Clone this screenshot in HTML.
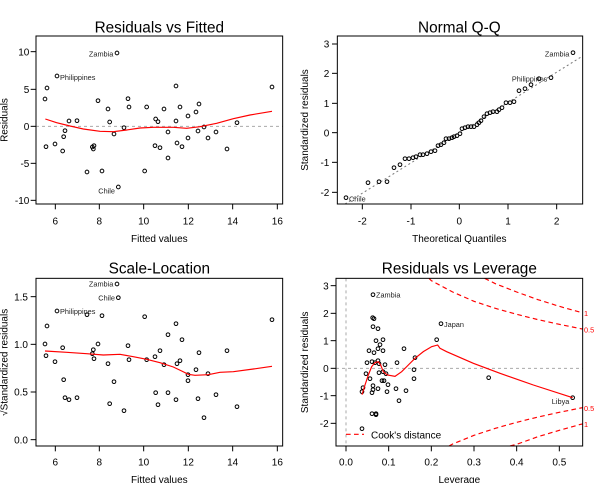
<!DOCTYPE html>
<html><head><meta charset="utf-8"><style>
html,body{margin:0;padding:0;background:#fff;}
svg{display:block;font-family:"Liberation Sans",Arial,sans-serif;}
.bx{fill:none;stroke:#000;stroke-width:3}
.tk{stroke:#000;stroke-width:3}
.pt{fill:none;stroke:#000;stroke-width:3}
.pt circle{r:5.5px}
.t{font-size:30px;fill:#000}
.ti{font-size:46px;fill:#000}
.pl{font-size:22px;fill:#222}
.lo{fill:none;stroke:#f00;stroke-width:3.5}
.zl{stroke:#aaa;stroke-width:3;stroke-dasharray:9,9}
.ck{fill:none;stroke:#f00;stroke-width:3.5;stroke-dasharray:14,10}
</style></head><body>
<svg width="601" height="483" viewBox="0 0 601 483">
<defs>
<clipPath id="c1"><rect x="108" y="108" width="740" height="504"/></clipPath>
<clipPath id="c4"><rect x="108" y="100" width="740" height="503"/></clipPath>
</defs>

<!-- Panel 1 -->
<g transform="scale(0.33333)">
<text class="ti" x="478" y="97" text-anchor="middle">Residuals vs Fitted</text>
<line class="zl" x1="108" y1="379" x2="848" y2="379"/>
<g class="pt">
<circle cx="135" cy="297" r="5.5"/><circle cx="138" cy="440" r="5.5"/><circle cx="141" cy="264" r="5.5"/><circle cx="165" cy="432" r="5.5"/><circle cx="171" cy="228" r="5.5"/><circle cx="188" cy="453" r="5.5"/><circle cx="191" cy="410" r="5.5"/><circle cx="195" cy="392" r="5.5"/><circle cx="207" cy="363" r="5.5"/><circle cx="231" cy="362" r="5.5"/><circle cx="261" cy="516" r="5.5"/><circle cx="277" cy="441" r="5.5"/><circle cx="280" cy="447" r="5.5"/><circle cx="282" cy="437" r="5.5"/><circle cx="294" cy="302" r="5.5"/><circle cx="306" cy="513" r="5.5"/><circle cx="324" cy="327" r="5.5"/><circle cx="329" cy="366" r="5.5"/><circle cx="342" cy="402" r="5.5"/><circle cx="351" cy="159" r="5.5"/><circle cx="355" cy="561" r="5.5"/><circle cx="372" cy="383" r="5.5"/><circle cx="384" cy="296" r="5.5"/><circle cx="387" cy="321" r="5.5"/><circle cx="434" cy="513" r="5.5"/><circle cx="440" cy="321" r="5.5"/><circle cx="465" cy="437" r="5.5"/><circle cx="467" cy="357" r="5.5"/><circle cx="474" cy="365" r="5.5"/><circle cx="480" cy="443" r="5.5"/><circle cx="492" cy="327" r="5.5"/><circle cx="504" cy="396" r="5.5"/><circle cx="504" cy="474" r="5.5"/><circle cx="528" cy="258" r="5.5"/><circle cx="528" cy="363" r="5.5"/><circle cx="531" cy="429" r="5.5"/><circle cx="540" cy="321" r="5.5"/><circle cx="546" cy="440" r="5.5"/><circle cx="564" cy="348" r="5.5"/><circle cx="564" cy="414" r="5.5"/><circle cx="588" cy="336" r="5.5"/><circle cx="594" cy="393" r="5.5"/><circle cx="597" cy="312" r="5.5"/><circle cx="612" cy="381" r="5.5"/><circle cx="624" cy="414" r="5.5"/><circle cx="648" cy="396" r="5.5"/><circle cx="681" cy="447" r="5.5"/><circle cx="711" cy="368" r="5.5"/><circle cx="816" cy="261" r="5.5"/>
</g>
<polyline class="lo" points="136,357 170,368 210,378 250,387 300,394 340,395 380,390 420,384 460,382 520,382 560,385 600,380 650,370 700,356 750,345 816,334"/>
<text class="pl" x="340" y="170" text-anchor="end">Zambia</text>
<text class="pl" x="180" y="240">Philippines</text>
<text class="pl" x="345" y="580" text-anchor="end">Chile</text>
<rect class="bx" x="108" y="108" width="740" height="504"/>
<g class="tk"><line x1="166" y1="612" x2="166" y2="628"/><line x1="298" y1="612" x2="298" y2="628"/><line x1="431" y1="612" x2="431" y2="628"/><line x1="565" y1="612" x2="565" y2="628"/><line x1="698" y1="612" x2="698" y2="628"/><line x1="832" y1="612" x2="832" y2="628"/>
<line x1="92" y1="155" x2="108" y2="155"/><line x1="92" y1="268" x2="108" y2="268"/><line x1="92" y1="379" x2="108" y2="379"/><line x1="92" y1="490" x2="108" y2="490"/><line x1="92" y1="601" x2="108" y2="601"/></g>
<g class="t" text-anchor="middle"><text x="166" y="673">6</text><text x="298" y="673">8</text><text x="431" y="673">10</text><text x="565" y="673">12</text><text x="698" y="673">14</text><text x="832" y="673">16</text></g>
<g class="t" text-anchor="end"><text x="88" y="166">10</text><text x="88" y="279">5</text><text x="88" y="390">0</text><text x="88" y="501">-5</text><text x="88" y="612">-10</text></g>
<text class="t" x="478" y="726" text-anchor="middle">Fitted values</text>
<text class="t" transform="translate(22,360) rotate(-90)" text-anchor="middle">Residuals</text>
</g>

<!-- Panel 2 -->
<g transform="translate(300,0) scale(0.33333)">
<text class="ti" x="478" y="97" text-anchor="middle">Normal Q-Q</text>
<line x1="135" y1="612" x2="848" y2="168" stroke="#777" stroke-width="3" stroke-dasharray="6,8" clip-path="url(#c1)"/>
<g class="pt">
<circle cx="138" cy="593" r="5.5"/><circle cx="204" cy="548" r="5.5"/><circle cx="237" cy="545" r="5.5"/><circle cx="261" cy="545" r="5.5"/><circle cx="282" cy="503" r="5.5"/><circle cx="300" cy="494" r="5.5"/><circle cx="315" cy="476" r="5.5"/><circle cx="327" cy="476" r="5.5"/><circle cx="339" cy="473" r="5.5"/><circle cx="348" cy="470" r="5.5"/><circle cx="360" cy="464" r="5.5"/><circle cx="369" cy="464" r="5.5"/><circle cx="381" cy="461" r="5.5"/><circle cx="393" cy="455" r="5.5"/><circle cx="405" cy="452" r="5.5"/><circle cx="414" cy="437" r="5.5"/><circle cx="423" cy="434" r="5.5"/><circle cx="432" cy="428" r="5.5"/><circle cx="438" cy="416" r="5.5"/><circle cx="447" cy="416" r="5.5"/><circle cx="456" cy="413" r="5.5"/><circle cx="462" cy="410" r="5.5"/><circle cx="471" cy="407" r="5.5"/><circle cx="480" cy="401" r="5.5"/><circle cx="486" cy="386" r="5.5"/><circle cx="495" cy="383" r="5.5"/><circle cx="504" cy="380" r="5.5"/><circle cx="513" cy="380" r="5.5"/><circle cx="522" cy="380" r="5.5"/><circle cx="531" cy="374" r="5.5"/><circle cx="537" cy="368" r="5.5"/><circle cx="543" cy="362" r="5.5"/><circle cx="552" cy="350" r="5.5"/><circle cx="561" cy="341" r="5.5"/><circle cx="570" cy="338" r="5.5"/><circle cx="579" cy="335" r="5.5"/><circle cx="591" cy="335" r="5.5"/><circle cx="597" cy="329" r="5.5"/><circle cx="606" cy="323" r="5.5"/><circle cx="618" cy="308" r="5.5"/><circle cx="630" cy="308" r="5.5"/><circle cx="642" cy="305" r="5.5"/><circle cx="657" cy="272" r="5.5"/><circle cx="675" cy="266" r="5.5"/><circle cx="693" cy="254" r="5.5"/><circle cx="717" cy="236" r="5.5"/><circle cx="753" cy="233" r="5.5"/><circle cx="819" cy="158" r="5.5"/>
</g>
<text class="pl" x="808" y="170" text-anchor="end">Zambia</text>
<text class="pl" x="742" y="245" text-anchor="end">Philippines</text>
<text class="pl" x="147" y="604">Chile</text>
<rect class="bx" x="112" y="108" width="736" height="504"/>
<g class="tk"><line x1="187" y1="612" x2="187" y2="628"/><line x1="333" y1="612" x2="333" y2="628"/><line x1="478" y1="612" x2="478" y2="628"/><line x1="624" y1="612" x2="624" y2="628"/><line x1="770" y1="612" x2="770" y2="628"/>
<line x1="96" y1="132" x2="112" y2="132"/><line x1="96" y1="220" x2="112" y2="220"/><line x1="96" y1="310" x2="112" y2="310"/><line x1="96" y1="398" x2="112" y2="398"/><line x1="96" y1="487" x2="112" y2="487"/><line x1="96" y1="577" x2="112" y2="577"/></g>
<g class="t" text-anchor="middle"><text x="187" y="673">-2</text><text x="333" y="673">-1</text><text x="478" y="673">0</text><text x="624" y="673">1</text><text x="770" y="673">2</text></g>
<g class="t" text-anchor="end"><text x="88" y="143">3</text><text x="88" y="231">2</text><text x="88" y="321">1</text><text x="88" y="409">0</text><text x="88" y="498">-1</text><text x="88" y="588">-2</text></g>
<text class="t" x="478" y="726" text-anchor="middle">Theoretical Quantiles</text>
<text class="t" transform="translate(24,360) rotate(-90)" text-anchor="middle">Standardized residuals</text>
</g>

<!-- Panel 3 -->
<g transform="translate(0,245) scale(0.33333)">
<text class="ti" x="478" y="86" text-anchor="middle">Scale-Location</text>
<g class="pt">
<circle cx="135" cy="297" r="5.5"/><circle cx="138" cy="332" r="5.5"/><circle cx="141" cy="243" r="5.5"/><circle cx="165" cy="350" r="5.5"/><circle cx="171" cy="198" r="5.5"/><circle cx="188" cy="308" r="5.5"/><circle cx="191" cy="404" r="5.5"/><circle cx="195" cy="458" r="5.5"/><circle cx="207" cy="464" r="5.5"/><circle cx="231" cy="458" r="5.5"/><circle cx="261" cy="209" r="5.5"/><circle cx="277" cy="326" r="5.5"/><circle cx="280" cy="314" r="5.5"/><circle cx="282" cy="341" r="5.5"/><circle cx="294" cy="297" r="5.5"/><circle cx="306" cy="212" r="5.5"/><circle cx="324" cy="356" r="5.5"/><circle cx="329" cy="476" r="5.5"/><circle cx="342" cy="410" r="5.5"/><circle cx="351" cy="117" r="5.5"/><circle cx="355" cy="158" r="5.5"/><circle cx="372" cy="497" r="5.5"/><circle cx="384" cy="302" r="5.5"/><circle cx="387" cy="344" r="5.5"/><circle cx="434" cy="215" r="5.5"/><circle cx="440" cy="344" r="5.5"/><circle cx="465" cy="335" r="5.5"/><circle cx="467" cy="443" r="5.5"/><circle cx="474" cy="479" r="5.5"/><circle cx="480" cy="317" r="5.5"/><circle cx="492" cy="359" r="5.5"/><circle cx="504" cy="443" r="5.5"/><circle cx="504" cy="269" r="5.5"/><circle cx="528" cy="236" r="5.5"/><circle cx="528" cy="464" r="5.5"/><circle cx="531" cy="356" r="5.5"/><circle cx="540" cy="347" r="5.5"/><circle cx="546" cy="284" r="5.5"/><circle cx="564" cy="389" r="5.5"/><circle cx="564" cy="407" r="5.5"/><circle cx="588" cy="374" r="5.5"/><circle cx="594" cy="461" r="5.5"/><circle cx="597" cy="323" r="5.5"/><circle cx="612" cy="518" r="5.5"/><circle cx="624" cy="386" r="5.5"/><circle cx="648" cy="449" r="5.5"/><circle cx="681" cy="317" r="5.5"/><circle cx="711" cy="485" r="5.5"/><circle cx="816" cy="224" r="5.5"/>
</g>
<polyline class="lo" points="135,318 200,322 260,326 310,330 360,328 400,335 440,343 480,353 520,366 545,378 565,388 585,391 625,389 660,382 700,380 760,372 816,364"/>
<text class="pl" x="340" y="125" text-anchor="end">Zambia</text>
<text class="pl" x="345" y="167" text-anchor="end">Chile</text>
<text class="pl" x="180" y="207">Philippines</text>
<rect class="bx" x="108" y="100" width="740" height="503"/>
<g class="tk"><line x1="166" y1="603" x2="166" y2="619"/><line x1="298" y1="603" x2="298" y2="619"/><line x1="431" y1="603" x2="431" y2="619"/><line x1="565" y1="603" x2="565" y2="619"/><line x1="698" y1="603" x2="698" y2="619"/><line x1="832" y1="603" x2="832" y2="619"/>
<line x1="92" y1="155" x2="108" y2="155"/><line x1="92" y1="298" x2="108" y2="298"/><line x1="92" y1="441" x2="108" y2="441"/><line x1="92" y1="584" x2="108" y2="584"/></g>
<g class="t" text-anchor="middle"><text x="166" y="662">6</text><text x="298" y="662">8</text><text x="431" y="662">10</text><text x="565" y="662">12</text><text x="698" y="662">14</text><text x="832" y="662">16</text></g>
<g class="t" text-anchor="end"><text x="84" y="166">1.5</text><text x="84" y="309">1.0</text><text x="84" y="452">0.5</text><text x="84" y="595">0.0</text></g>
<text class="t" x="478" y="714" text-anchor="middle">Fitted values</text>
<text class="t" transform="translate(22,352) rotate(-90)" text-anchor="middle">√Standardized residuals</text>
</g>

<!-- Panel 4 -->
<g transform="translate(300,245) scale(0.33333)">
<text class="ti" x="478" y="86" text-anchor="middle">Residuals vs Leverage</text>
<line class="zl" x1="108" y1="370" x2="848" y2="370"/>
<line class="zl" x1="138" y1="100" x2="138" y2="603"/>
<g clip-path="url(#c4)">
<polyline class="ck" points="387,100 394,107 458,141 522,169 586,190 650,208 714,224 778,238 842,251 848,252"/>
<polyline class="ck" points="554,100 586,116 650,141 714,164 778,184 842,202 848,203"/>
<polyline class="ck" points="447,603 458,597 522,571 586,550 650,532 714,516 778,502 842,489 848,488"/>
<polyline class="ck" points="630,603 650,598 714,575 778,556 842,538 848,537"/>
</g>
<g class="pt">
<circle cx="219" cy="149" r="5.5"/><circle cx="218" cy="218" r="5.5"/><circle cx="222" cy="221" r="5.5"/><circle cx="219" cy="245" r="5.5"/><circle cx="234" cy="251" r="5.5"/><circle cx="228" cy="287" r="5.5"/><circle cx="249" cy="284" r="5.5"/><circle cx="207" cy="317" r="5.5"/><circle cx="222" cy="323" r="5.5"/><circle cx="234" cy="311" r="5.5"/><circle cx="240" cy="299" r="5.5"/><circle cx="249" cy="317" r="5.5"/><circle cx="234" cy="347" r="5.5"/><circle cx="225" cy="353" r="5.5"/><circle cx="201" cy="353" r="5.5"/><circle cx="216" cy="350" r="5.5"/><circle cx="237" cy="356" r="5.5"/><circle cx="255" cy="359" r="5.5"/><circle cx="198" cy="386" r="5.5"/><circle cx="210" cy="401" r="5.5"/><circle cx="237" cy="383" r="5.5"/><circle cx="249" cy="380" r="5.5"/><circle cx="258" cy="386" r="5.5"/><circle cx="252" cy="407" r="5.5"/><circle cx="246" cy="407" r="5.5"/><circle cx="264" cy="419" r="5.5"/><circle cx="189" cy="428" r="5.5"/><circle cx="186" cy="440" r="5.5"/><circle cx="219" cy="422" r="5.5"/><circle cx="219" cy="434" r="5.5"/><circle cx="234" cy="431" r="5.5"/><circle cx="216" cy="443" r="5.5"/><circle cx="261" cy="440" r="5.5"/><circle cx="216" cy="506" r="5.5"/><circle cx="228" cy="506" r="5.5"/><circle cx="228" cy="509" r="5.5"/><circle cx="186" cy="551" r="5.5"/><circle cx="312" cy="311" r="5.5"/><circle cx="291" cy="353" r="5.5"/><circle cx="342" cy="401" r="5.5"/><circle cx="288" cy="431" r="5.5"/><circle cx="297" cy="467" r="5.5"/><circle cx="318" cy="437" r="5.5"/><circle cx="345" cy="338" r="5.5"/><circle cx="342" cy="374" r="5.5"/><circle cx="410" cy="284" r="5.5"/><circle cx="423" cy="236" r="5.5"/><circle cx="566" cy="398" r="5.5"/><circle cx="818" cy="458" r="5.5"/>
</g>
<polyline class="lo" points="186,449 195,420 205,390 215,365 225,353 235,350 242,360 250,380 262,390 285,394 305,380 325,360 345,340 370,320 395,305 413,300 420,310 440,320 520,355 600,385 700,420 818,458"/>
<text class="pl" x="228" y="158">Zambia</text>
<text class="pl" x="432" y="246">Japan</text>
<text class="pl" x="808" y="477" text-anchor="end">Libya</text>
<g font-size="22" fill="#f00"><text x="852" y="213">1</text><text x="852" y="263">0.5</text><text x="852" y="498">0.5</text><text x="852" y="546">1</text></g>
<line class="ck" x1="138" y1="568" x2="192" y2="568"/>
<text class="t" x="213" y="580">Cook's distance</text>
<rect class="bx" x="108" y="100" width="740" height="503"/>
<g class="tk"><line x1="138" y1="603" x2="138" y2="619"/><line x1="266" y1="603" x2="266" y2="619"/><line x1="394" y1="603" x2="394" y2="619"/><line x1="522" y1="603" x2="522" y2="619"/><line x1="650" y1="603" x2="650" y2="619"/><line x1="778" y1="603" x2="778" y2="619"/>
<line x1="92" y1="122" x2="108" y2="122"/><line x1="92" y1="205" x2="108" y2="205"/><line x1="92" y1="287" x2="108" y2="287"/><line x1="92" y1="370" x2="108" y2="370"/><line x1="92" y1="452" x2="108" y2="452"/><line x1="92" y1="535" x2="108" y2="535"/></g>
<g class="t" text-anchor="middle"><text x="138" y="662">0.0</text><text x="266" y="662">0.1</text><text x="394" y="662">0.2</text><text x="522" y="662">0.3</text><text x="650" y="662">0.4</text><text x="778" y="662">0.5</text></g>
<g class="t" text-anchor="end"><text x="86" y="133">3</text><text x="86" y="216">2</text><text x="86" y="298">1</text><text x="86" y="381">0</text><text x="86" y="463">-1</text><text x="86" y="546">-2</text></g>
<text class="t" x="478" y="714" text-anchor="middle">Leverage</text>
<text class="t" transform="translate(24,352) rotate(-90)" text-anchor="middle">Standardized residuals</text>
</g>
</svg>
</body></html>
